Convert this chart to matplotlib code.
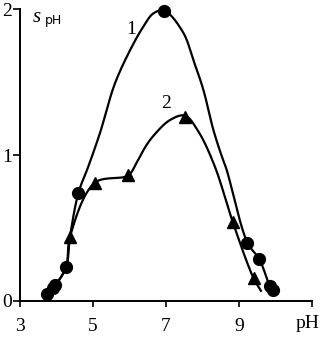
import numpy as np
import matplotlib.pyplot as plt

# curve 1 (circles)
c1_x = [3.75, 3.90, 3.97, 4.26, 4.60, 6.95, 9.23, 9.56, 9.85, 9.93]
c1_y = [0.05, 0.09, 0.11, 0.23, 0.74, 1.99, 0.40, 0.285, 0.10, 0.075]
# traced path of curve 1
p1_x = [3.75, 3.94, 4.26, 4.37, 4.60, 4.87, 5.19, 5.60, 6.06, 6.38, 6.65, 6.95,
        7.47, 7.75, 8.02, 8.30, 8.53, 8.66, 9.23, 9.56, 9.85, 9.93]
p1_y = [0.05, 0.10, 0.23, 0.44, 0.74, 0.92, 1.15, 1.49, 1.74, 1.88, 1.97, 1.99,
        1.84, 1.65, 1.45, 1.17, 0.99, 0.90, 0.40, 0.285, 0.10, 0.075]

# curve 2 (triangles)
c2_x = [4.37, 5.05, 5.96, 7.52, 8.83, 9.40]
c2_y = [0.44, 0.81, 0.86, 1.26, 0.54, 0.155]
# traced path of curve 2
p2_x = [3.75, 3.94, 4.26, 4.37, 5.05, 5.96, 6.20, 6.42, 6.65, 7.11, 7.52,
        7.89, 8.34, 8.83, 9.40, 9.60]
p2_y = [0.05, 0.10, 0.23, 0.44, 0.81, 0.86, 0.95, 1.05, 1.13, 1.24, 1.27,
        1.16, 0.92, 0.54, 0.155, 0.07]

x_ticks = [3, 5, 7, 9]
y_ticks = [0, 1, 2]


def smooth(xs, ys, n=16, a=0.5):
    # centripetal Catmull-Rom through the traced points (screen-like units)
    pts = np.column_stack([np.array(xs) * 36.5, np.array(ys) * 146.0])
    pts = np.vstack([2 * pts[0] - pts[1], pts, 2 * pts[-1] - pts[-2]])
    out = []
    for i in range(1, len(pts) - 2):
        P0, P1, P2, P3 = pts[i - 1], pts[i], pts[i + 1], pts[i + 2]
        t0 = 0.0
        t1 = t0 + np.linalg.norm(P1 - P0) ** a
        t2 = t1 + np.linalg.norm(P2 - P1) ** a
        t3 = t2 + np.linalg.norm(P3 - P2) ** a
        for t in np.linspace(t1, t2, n, endpoint=False):
            A1 = (t1 - t) / (t1 - t0) * P0 + (t - t0) / (t1 - t0) * P1
            A2 = (t2 - t) / (t2 - t1) * P1 + (t - t1) / (t2 - t1) * P2
            A3 = (t3 - t) / (t3 - t2) * P2 + (t - t2) / (t3 - t2) * P3
            B1 = (t2 - t) / (t2 - t0) * A1 + (t - t0) / (t2 - t0) * A2
            B2 = (t3 - t) / (t3 - t1) * A2 + (t - t1) / (t3 - t1) * A3
            out.append((t2 - t) / (t2 - t1) * B1 + (t - t1) / (t2 - t1) * B2)
    out.append(pts[-2])
    out = np.array(out)
    return out[:, 0] / 36.5, out[:, 1] / 146.0


plt.rcParams["font.family"] = ["Liberation Serif", "DejaVu Serif"]

fig = plt.figure(figsize=(3.2, 3.37), dpi=100)
ax = fig.add_axes([0.0625, 0.107, 0.9125, 0.866])

sx, sy = smooth(p1_x, p1_y)
ax.plot(sx, sy, color="black", linewidth=1.6, clip_on=False)
sx, sy = smooth(p2_x, p2_y)
ax.plot(sx, sy, color="black", linewidth=1.6, clip_on=False)

ax.plot(c1_x, c1_y, "o", color="black", markersize=8.5, clip_on=False)
ax.plot(c2_x, c2_y, "^", color="black", markersize=9, clip_on=False)

ax.text(6.04, 1.86, "1", fontsize=14, ha="center", va="center")
ax.text(7.0, 1.35, "2", fontsize=14, ha="center", va="center")

ax.set_xlim(3, 11)
ax.set_ylim(0, 2)
ax.set_xticks(x_ticks + [11])
ax.set_xticklabels([str(v) for v in x_ticks] + [""])
ax.set_yticks(y_ticks)
ax.set_yticklabels([str(v) for v in y_ticks])
ax.tick_params(direction="out", length=5, width=1.2, labelsize=14, pad=1)
ax.tick_params(axis="x", length=4, pad=8)

for s in ["top", "right"]:
    ax.spines[s].set_visible(False)
for s in ["left", "bottom"]:
    ax.spines[s].set_linewidth(1.4)

ax.text(0.045, 0.972, "s", transform=ax.transAxes, fontsize=15, ha="left", va="center",
        style="italic")
ax.text(0.085, 0.962, "pH", transform=ax.transAxes, fontsize=9, ha="left", va="center",
        family=["DejaVu Sans"])
fig.text(0.998, 0.04, "pH", fontsize=14, ha="right", va="center")

plt.savefig("out.png", dpi=100)
